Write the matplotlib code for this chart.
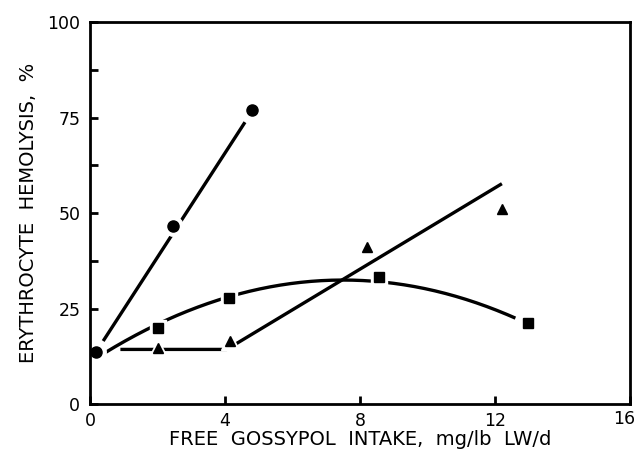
import numpy as np
import matplotlib
matplotlib.use("Agg")
import matplotlib.pyplot as plt
from matplotlib.ticker import MultipleLocator, FixedLocator, FixedFormatter

plt.rcParams['font.family'] = ['DejaVu Sans']

# Data points
circ_x = [0.18, 2.46, 4.8]
circ_y = [13.6, 46.7, 76.9]
sq_x = [2.0, 4.12, 8.56, 12.98]
sq_y = [20.0, 27.8, 33.3, 21.3]
tri_x = [2.0, 4.15, 8.2, 12.2]
tri_y = [14.7, 16.5, 41.0, 51.0]

# Fitted lines
circ_fit_x = [0.39, 4.59]
circ_fit_y = [16.5, 73.8]
sq_fit_x = [0.44, 2.0, 4.12, 7.5, 8.56, 12.6]
sq_fit_y = [13.4, 20.9, 28.1, 32.5, 32.0, 22.5]
tri_fit_x = [0.9, 4.05, 12.2]
tri_fit_y = [14.3, 14.3, 57.7]

x_ticks = [0, 4, 8, 12, 16]
x_tick_labels = ['0', '4', '8', '12', '16']

fig = plt.figure(figsize=(6.37, 4.62), dpi=100)
ax = fig.add_axes([0.1413, 0.1255, 0.848, 0.8265])

lw = 2.4
ax.plot(circ_fit_x, circ_fit_y, color='black', lw=lw, solid_capstyle='butt', zorder=2)
c = np.polyfit(sq_fit_x, sq_fit_y, 2)
xs = np.linspace(sq_fit_x[0], sq_fit_x[-1], 200)
ax.plot(xs, np.polyval(c, xs), color='black', lw=lw, solid_capstyle='butt', zorder=2)
ax.plot(tri_fit_x, tri_fit_y, color='black', lw=lw, solid_capstyle='butt', zorder=2)

# white halos create the gaps in the lines around the markers
halo = dict(color='white', linestyle='none', zorder=2.5)
ax.plot(circ_x, circ_y, marker='o', markersize=14, **halo)
ax.plot(sq_x, sq_y, marker='s', markersize=12, **halo)
ax.plot(tri_x, tri_y, marker='^', markersize=13, **halo)

mk = dict(color='black', linestyle='none', zorder=3)
ax.plot(circ_x, circ_y, marker='o', markersize=8, **mk)
ax.plot(sq_x, sq_y, marker='s', markersize=7, **mk)
ax.plot(tri_x, tri_y, marker='^', markersize=7, **mk)

ax.set_xlim(0, 16)
ax.set_ylim(0, 100)
ax.xaxis.set_major_locator(FixedLocator(x_ticks))
ax.xaxis.set_major_formatter(FixedFormatter(x_tick_labels[:-1] + ['']))
ax.yaxis.set_major_locator(MultipleLocator(25))
ax.yaxis.set_minor_locator(MultipleLocator(12.5))
ax.tick_params(which='both', direction='in', length=6, width=2, labelsize=12.5)
ax.tick_params(axis='x', pad=6)
ax.tick_params(axis='y', pad=7)
for s in ax.spines.values():
    s.set_linewidth(2)

# last x tick label, nudged left so it stays inside the figure
ax.annotate(x_tick_labels[-1], xy=(x_ticks[-1], 0), xycoords=('data', 'axes fraction'),
            xytext=(-4, -4.6), textcoords='offset points', ha='center', va='top', fontsize=12.5)

ax.set_xlabel('FREE  GOSSYPOL  INTAKE,  mg/lb  LW/d', fontsize=14, labelpad=0)
ax.set_ylabel('ERYTHROCYTE  HEMOLYSIS,  %', fontsize=14, labelpad=7)

fig.savefig('out.png', dpi=100)
